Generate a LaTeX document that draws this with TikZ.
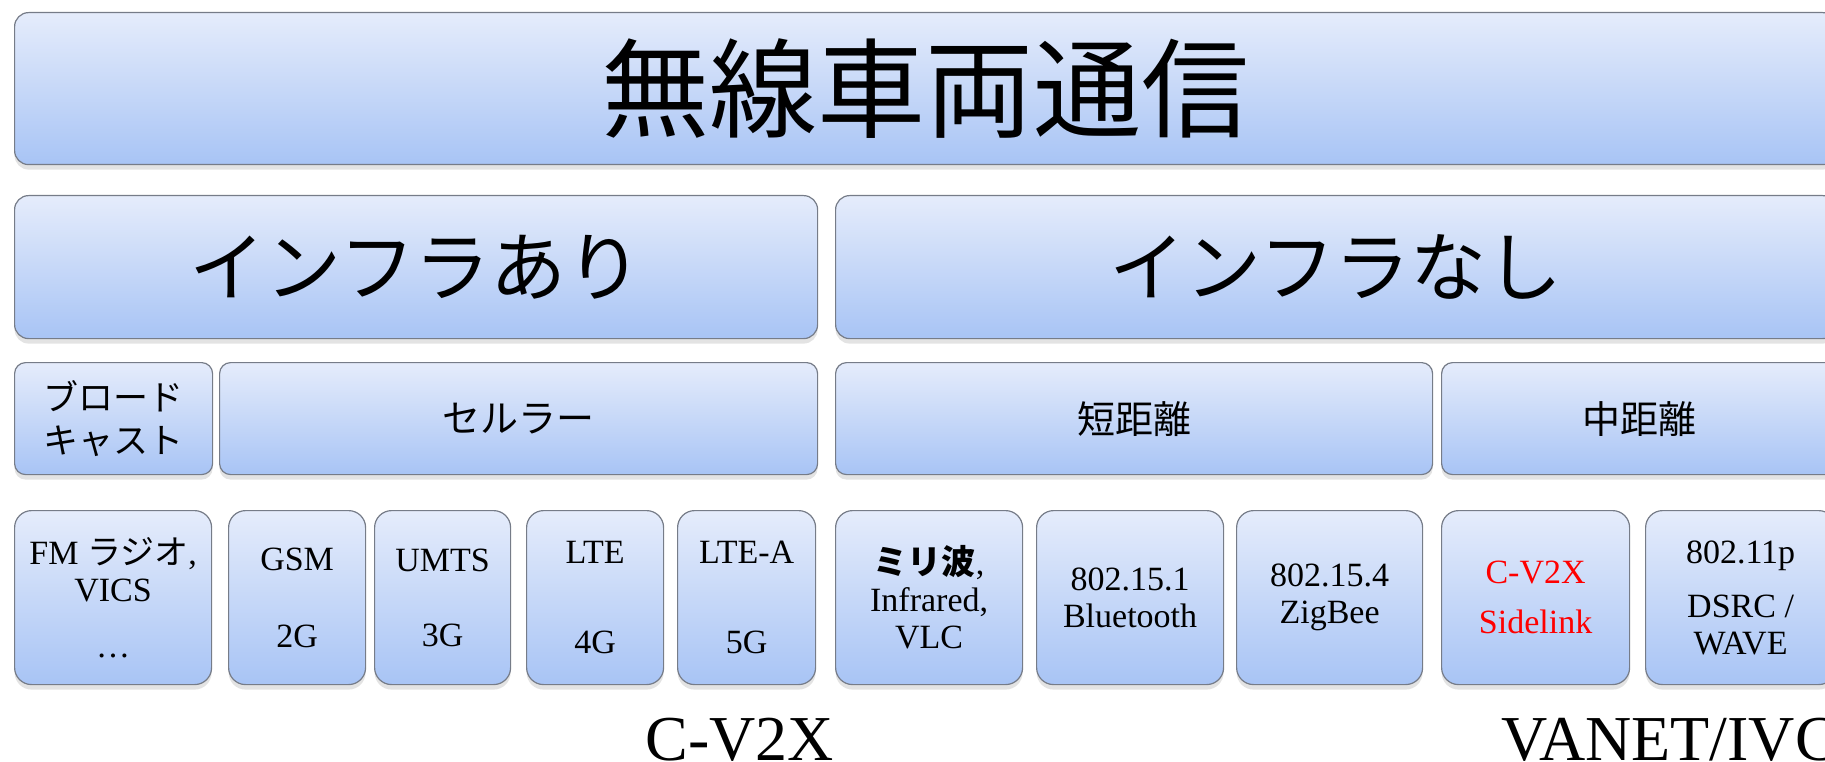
\documentclass[tikz,border=0pt]{standalone}
\usepackage{fontspec}
\setmainfont{Liberation Serif}
\newfontfamily\jp{Noto Sans CJK JP}
\usetikzlibrary{shadows}
\definecolor{gtop}{RGB}{229,236,251}
\definecolor{gbot}{RGB}{168,196,245}
\definecolor{bord}{RGB}{118,124,136}
\tikzset{
  box/.style={draw=bord, line width=1.2pt, rounded corners=#1,
    top color=gtop, bottom color=gbot, anchor=north west,
    inner sep=0pt, align=center,
    drop shadow={shadow xshift=0pt, shadow yshift=-5pt, opacity=0.22}},
  box/.default=14pt,
  ttl/.style={font=\fontsize{108}{110}\selectfont\jp},
  big/.style={font=\fontsize{76}{80}\selectfont\jp},
  mid/.style={font=\fontsize{38}{43}\selectfont\jp},
  sml/.style={font=\fontsize{34}{37}\selectfont},
  lbl/.style={font=\fontsize{64}{70}\selectfont, inner sep=0pt},
}
\begin{document}
\begin{tikzpicture}[x=1pt,y=-1pt]
\useasboundingbox (0,0) rectangle (1825,762);
\clip (0,0) rectangle (1825,762);
% level 1
\node[box=14pt, ttl, minimum width=1822pt, minimum height=152pt] (root) at (14,12) {\raisebox{8pt}{無線車両通信}};
% level 2
\node[box=14pt, big, minimum width=803pt, minimum height=143pt] (infra) at (14,195) {\raisebox{3pt}{インフラあり}};
\node[box=14pt, big, minimum width=1001pt, minimum height=143pt] (noinfra) at (835,195) {\raisebox{3pt}{インフラなし}};
% level 3
\node[box=11pt, mid, font=\fontsize{35}{43}\selectfont\jp, minimum width=198pt, minimum height=112pt] (bcast) at (14,362) {ブロード\\キャスト};
\node[box=11pt, mid, minimum width=598pt, minimum height=112pt] (cell) at (219,362) {セルラー};
\node[box=11pt, mid, minimum width=597pt, minimum height=112pt] (short) at (835,362) {短距離};
\node[box=11pt, mid, minimum width=395pt, minimum height=112pt] (medium) at (1441,362) {中距離};
% level 4
\node[box=17pt, sml, minimum width=197pt, minimum height=174pt] (fm) at (14,510) {FM {\jp ラジオ},\\VICS\\[19pt]…};
\node[box=17pt, sml, minimum width=137pt, minimum height=174pt] (gsm) at (228,510) {GSM\\[40pt]2G};
\node[box=17pt, sml, minimum width=136pt, minimum height=174pt] (umts) at (374,510) {UMTS\\[38pt]3G};
\node[box=17pt, sml, minimum width=137pt, minimum height=174pt] (lte) at (526,510) {LTE\\[53pt]4G};
\node[box=17pt, sml, minimum width=138pt, minimum height=174pt] (ltea) at (677,510) {LTE-A\\[53pt]5G};
\node[box=17pt, sml, minimum width=187pt, minimum height=174pt] (mmw) at (835,510) {{\jp\bfseries ミリ波},\\Infrared,\\VLC};
\node[box=17pt, sml, minimum width=187pt, minimum height=174pt] (bt) at (1036,510) {802.15.1\\Bluetooth};
\node[box=17pt, sml, minimum width=186pt, minimum height=174pt] (zb) at (1236,510) {802.15.4\\ZigBee};
\node[box=17pt, sml, text=red, minimum width=188pt, minimum height=174pt] (sl) at (1441,510) {C-V2X\\[13pt]Sidelink};
\node[box=17pt, sml, minimum width=190pt, minimum height=174pt] (dsrc) at (1645,510) {802.11p\\[17pt]DSRC /\\WAVE};
% bottom labels
\node[lbl, anchor=base] (cv2x) at (740,760) {C-V2X};
\node[lbl, anchor=base west] (vanet) at (1501,760) {VANET/IVC};
\end{tikzpicture}
\end{document}
